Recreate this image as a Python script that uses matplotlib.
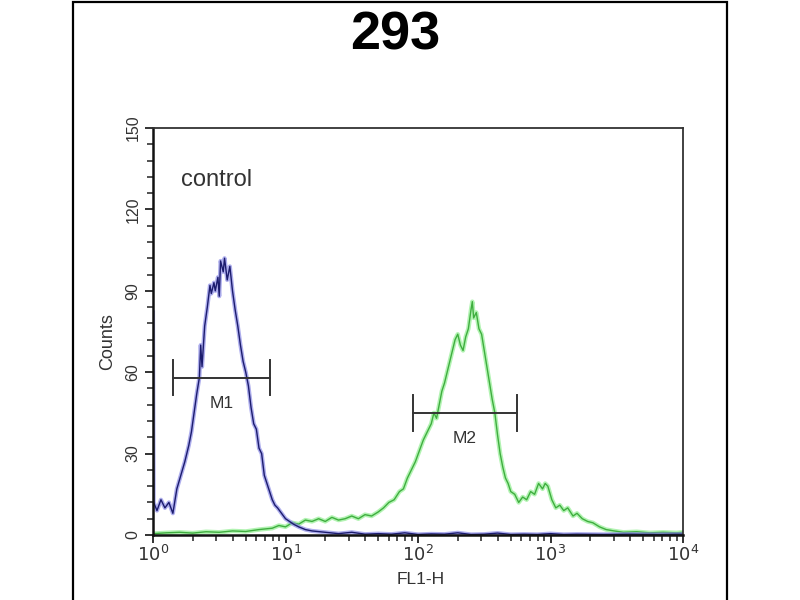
import numpy as np
import matplotlib.pyplot as plt
from matplotlib.patches import Rectangle
from matplotlib.ticker import MultipleLocator, FixedLocator

plt.rcParams['font.family'] = ['Liberation Sans', 'DejaVu Sans']

# log10(FL1-H) positions and counts
control_log = [0.0, 0.005, 0.03, 0.06, 0.09, 0.12, 0.15, 0.18, 0.21, 0.24, 0.27, 0.29,
               0.31, 0.33, 0.35, 0.36, 0.37, 0.39, 0.41, 0.43, 0.44, 0.46, 0.47, 0.49,
               0.50, 0.51, 0.53, 0.54, 0.56, 0.58, 0.60, 0.62, 0.64, 0.66, 0.68, 0.70,
               0.72, 0.74, 0.76, 0.78, 0.80, 0.82, 0.84, 0.86, 0.88, 0.90, 0.92, 0.94,
               0.97, 1.00, 1.03, 1.06, 1.10, 1.15, 1.20, 1.30, 1.40, 1.50, 1.60, 1.70,
               1.80, 1.90, 2.00, 2.10, 2.20, 2.30, 2.40, 2.50, 2.60, 2.70, 2.80, 2.90,
               3.00, 3.10, 3.20, 3.40, 3.60, 3.80, 4.00]
control_counts = [82, 12, 9, 13, 10, 12, 8, 17, 22, 27, 33, 38,
                  45, 52, 58, 70, 62, 77, 84, 92, 89, 93, 90, 95,
                  88, 101, 97, 102, 94, 99, 90, 83, 77, 70, 64, 60,
                  55, 47, 41, 39, 32, 30, 22, 19, 16, 13, 11, 10,
                  8, 6, 5, 4, 3, 2, 1.5, 1, 0.5, 1, 0.3, 0.5,
                  0.3, 0.8, 0.2, 0.4, 0.3, 0.8, 0.2, 0.3, 0.7, 0.2, 0.3, 0.2,
                  0.5, 0.2, 0.3, 0.2, 0.3, 0.2, 0.3]

sample_log = [0.0, 0.1, 0.2, 0.3, 0.4, 0.5, 0.6, 0.7, 0.8, 0.9, 0.95, 1.0,
              1.05, 1.1, 1.15, 1.2, 1.25, 1.3, 1.35, 1.4, 1.45, 1.5, 1.55, 1.6,
              1.65, 1.7, 1.74, 1.78, 1.82, 1.86, 1.89, 1.92, 1.95, 1.98, 2.01, 2.04,
              2.07, 2.10, 2.12, 2.14, 2.16, 2.18, 2.20, 2.22, 2.24, 2.26, 2.28, 2.30,
              2.32, 2.34, 2.36, 2.38, 2.40, 2.41, 2.42, 2.44, 2.46, 2.48, 2.50, 2.52,
              2.54, 2.56, 2.58, 2.60, 2.62, 2.64, 2.66, 2.68, 2.70, 2.73, 2.76, 2.79,
              2.82, 2.85, 2.88, 2.91, 2.94, 2.96, 2.98, 3.01, 3.04, 3.07, 3.10, 3.13,
              3.17, 3.20, 3.24, 3.28, 3.32, 3.37, 3.42, 3.48, 3.55, 3.65, 3.75, 3.85,
              3.95, 4.0]
sample_counts = [0.5, 0.8, 1, 0.7, 1.2, 1, 1.5, 1.3, 2, 2.5, 3.5, 3,
                 4.5, 4, 5.5, 5, 6, 5, 6.5, 5.5, 6, 7, 6, 7.5,
                 7, 8.5, 10, 12, 13, 16, 17, 21, 24, 27, 31, 35,
                 38, 41, 45, 43, 48, 53, 56, 60, 64, 68, 72, 74,
                 70, 68, 73, 76, 83, 86, 80, 82, 76, 74, 68, 62,
                 56, 50, 45, 37, 30, 25, 21, 19, 16, 15, 12, 14,
                 13, 16, 15, 19, 17, 19, 18, 13, 10, 11, 9, 10,
                 7, 8, 6, 5, 4.5, 3, 2, 1.5, 1, 1.2, 0.8, 1,
                 0.8, 1]

# marker gates (log10 start, log10 end, counts level)
gate_names = ['M1', 'M2']
gate_start = [0.15, 1.96]
gate_end = [0.88, 2.75]
gate_level = [58, 45]

fig = plt.figure(figsize=(8, 6), dpi=100)
ax = fig.add_axes([153 / 800, 65 / 600, 530 / 800, 407 / 600])

sx = 10 ** np.array(sample_log)
cx = 10 ** np.array(control_log)
# soft halo under each trace, like the scanned original
ax.plot(sx, sample_counts, color='#9ff09f', lw=3.2, alpha=0.8)
ax.plot(sx, sample_counts, color='#3fae3f', lw=1.0)
ax.plot(cx, control_counts, color='#8c8ce6', lw=3.0, alpha=0.7)
ax.plot(cx, control_counts, color='#1c1c6e', lw=1.0)

for name, a, b, lev in zip(gate_names, gate_start, gate_end, gate_level):
    ax.plot([10 ** a, 10 ** b], [lev, lev], color='#333333', lw=1.4)
    ax.plot([10 ** a, 10 ** a], [lev - 6.5, lev + 6.5], color='#333333', lw=1.4)
    ax.plot([10 ** b, 10 ** b], [lev - 6.5, lev + 6.5], color='#333333', lw=1.4)
    ax.text(10 ** ((a + b) / 2), lev - 9.5, name, ha='center', va='center',
            fontsize=12.5, color='#333333')

ax.text(10 ** 0.21, 131, 'control', fontsize=17, color='#333333', va='center')

ax.set_xscale('log')
ax.set_xlim(1, 10 ** 4)
ax.set_ylim(0, 150)

ax.set_yticks([0, 30, 60, 90, 120, 150])
ax.yaxis.set_minor_locator(MultipleLocator(6))
ax.set_yticklabels(['0', '30', '60', '90', '120', '150'], rotation=90, va='center',
                   fontsize=11.5, color='#333333')
ax.set_xticks([1, 10, 100, 1000, 10000])
ax.set_xticklabels(['$10^0$', '$10^1$', '$10^2$', '$10^3$', '$10^4$'], fontsize=13,
                   color='#333333')
minor_x = [m * 10 ** k for k in range(4) for m in range(2, 10)]
ax.xaxis.set_minor_locator(FixedLocator(minor_x))
ax.xaxis.set_minor_formatter(plt.NullFormatter())

ax.tick_params(which='major', direction='out', length=6, width=1.3, color='#222222')
ax.tick_params(which='minor', direction='out', length=4, width=1.1, color='#222222')
ax.tick_params(axis='y', pad=3)
ax.tick_params(axis='x', pad=1)

for side in ['left', 'bottom']:
    ax.spines[side].set_linewidth(1.8)
    ax.spines[side].set_color('#111111')
for side in ['top', 'right']:
    ax.spines[side].set_linewidth(1.3)
    ax.spines[side].set_color('#333333')

ax.set_ylabel('Counts', fontsize=13, color='#333333')
ax.yaxis.set_label_coords(-0.07, 0.475)
ax.set_xlabel('FL1-H', fontsize=12.5, color='#333333')
ax.xaxis.set_label_coords(0.505, -0.09)

fig.text(395 / 800, 1 - 35 / 600, '293', ha='center', va='center', fontsize=39,
         fontweight='bold', color='black')

fig.add_artist(Rectangle((73 / 800, -0.05), 654 / 800, 1.05 - 2 / 600,
                         transform=fig.transFigure, fill=False, lw=1.6,
                         edgecolor='black'))

fig.savefig('out.png', dpi=100)
